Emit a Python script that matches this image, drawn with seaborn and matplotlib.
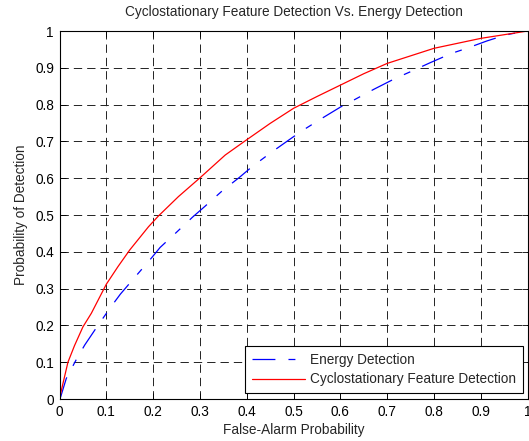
import matplotlib
matplotlib.use("Agg")
import matplotlib.pyplot as plt
import pandas as pd
import seaborn as sns

# ROC curves
pfa_energy = [0.0, 0.0025, 0.0145, 0.037, 0.054, 0.081, 0.109, 0.130, 0.161, 0.193,
              0.215, 0.249, 0.284, 0.311, 0.347, 0.384, 0.411, 0.45, 0.49, 0.517,
              0.557, 0.601, 0.631, 0.672, 0.717, 0.749, 0.792, 0.837, 0.870, 0.913,
              0.945, 0.963, 1.0]
pd_energy = [0.0, 0.006, 0.056, 0.11, 0.147, 0.198, 0.249, 0.285, 0.331, 0.378,
             0.412, 0.452, 0.494, 0.524, 0.565, 0.602, 0.631, 0.668, 0.704, 0.728,
             0.760, 0.794, 0.814, 0.842, 0.871, 0.889, 0.914, 0.939, 0.953, 0.973,
             0.986, 0.992, 1.0]

pfa_cyclo = [0.0, 0.004, 0.018, 0.032, 0.050, 0.068, 0.100, 0.125, 0.150, 0.190,
             0.211, 0.254, 0.300, 0.354, 0.396, 0.45, 0.5, 0.55, 0.6, 0.65,
             0.7, 0.8, 0.9, 1.0]
pd_cyclo = [0.0, 0.024, 0.100, 0.145, 0.196, 0.233, 0.312, 0.360, 0.405, 0.468,
            0.497, 0.550, 0.601, 0.663, 0.701, 0.749, 0.79, 0.822, 0.853, 0.884,
            0.912, 0.953, 0.98, 1.0]

ticks = [0, 0.1, 0.2, 0.3, 0.4, 0.5, 0.6, 0.7, 0.8, 0.9, 1]
tick_labels = ["0", "0.1", "0.2", "0.3", "0.4", "0.5", "0.6", "0.7", "0.8", "0.9", "1"]

sns.set_style("ticks")
plt.rcParams["font.family"] = ["Liberation Sans", "DejaVu Sans"]
plt.rcParams["lines.scale_dashes"] = False

energy = pd.DataFrame({"pfa": pfa_energy, "pd": pd_energy})
cyclo = pd.DataFrame({"pfa": pfa_cyclo, "pd": pd_cyclo})

fs = 9.8
fig = plt.figure(figsize=(5.29, 4.41), dpi=100)
ax = fig.add_axes([0.1125, 0.0952, 0.885, 0.8345])

sns.lineplot(data=energy, x="pfa", y="pd", color="#0000ff", linewidth=0.9,
             label="Energy Detection", ax=ax)
ax.lines[-1].set_dashes((16.5, 9.4, 5.0, 9.4))
sns.lineplot(data=cyclo, x="pfa", y="pd", color="#ff0000", linewidth=0.9,
             label="Cyclostationary Feature Detection", ax=ax)

ax.set_xlim(0, 1)
ax.set_ylim(0, 1)
ax.set_xticks(ticks)
ax.set_xticklabels(tick_labels)
ax.set_yticks(ticks)
ax.set_yticklabels(tick_labels)
ax.grid(True, color="#222222", linestyle=(0, (6, 3.6)), linewidth=0.7)
ax.tick_params(direction="in", length=4, width=0.6, top=True, right=True,
               labelsize=fs, colors="black", pad=4)
for side in ax.spines.values():
    side.set_visible(True)
    side.set_color("black")
    side.set_linewidth(0.8)

ax.set_title("Cyclostationary Feature Detection Vs. Energy Detection",
             fontsize=fs, pad=11)
ax.set_xlabel("False-Alarm Probability", fontsize=fs, labelpad=3)
ax.set_ylabel("Probability of Detection", fontsize=fs, labelpad=5)

leg = ax.legend(loc="lower right", bbox_to_anchor=(0.99, 0.016), borderaxespad=0,
                fontsize=fs, handlelength=3.9, handletextpad=0.4, fancybox=False,
                framealpha=1, edgecolor="black", borderpad=0.5, labelspacing=0.4)
leg.get_frame().set_linewidth(0.8)

fig.savefig("out.png", dpi=100)
